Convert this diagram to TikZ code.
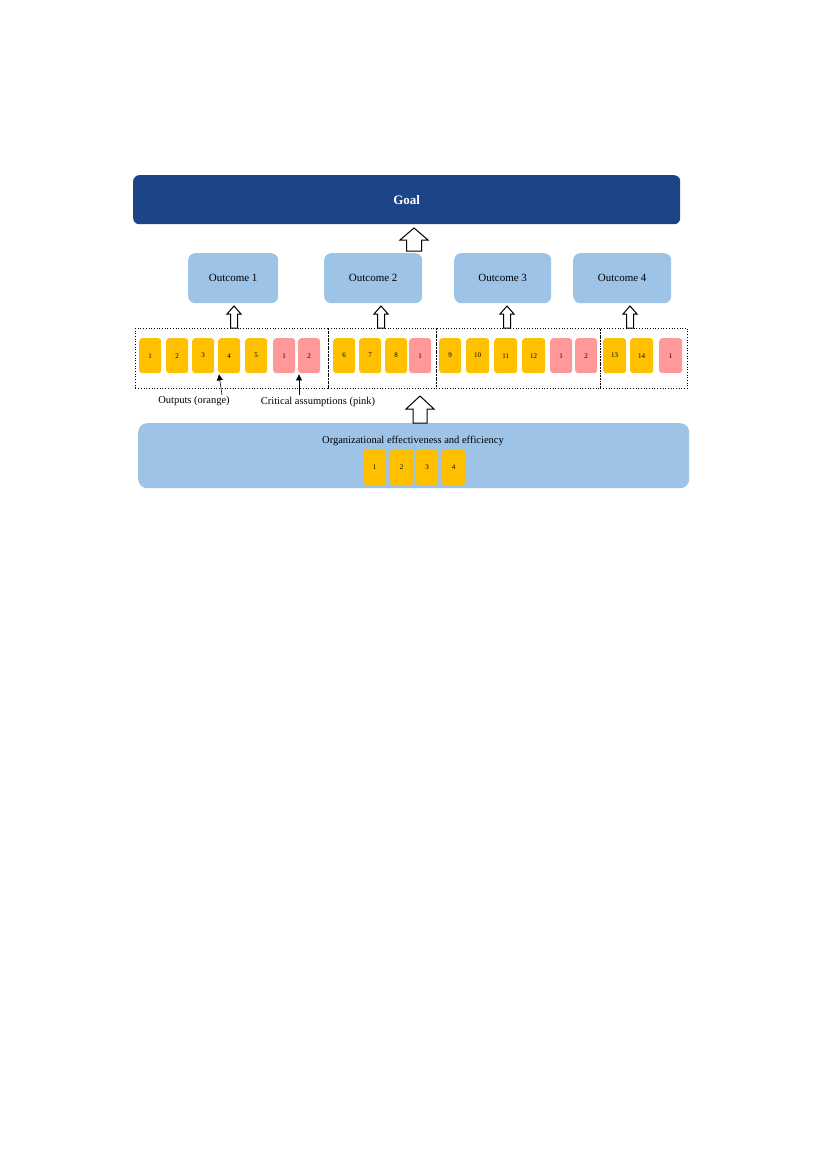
\documentclass[tikz,border=0pt]{standalone}
\usepackage{fontspec}
\setmainfont{Liberation Serif}
\usetikzlibrary{calc,arrows.meta}
\definecolor{goalblue}{RGB}{28,69,135}
\definecolor{outblue}{RGB}{157,195,230}
\definecolor{orangeb}{RGB}{255,192,0}
\definecolor{pinkb}{RGB}{255,153,153}
% #1 bottom point, #2 tip point, #3 half shaft, #4 half head, #5 head length
\newcommand{\harrow}[5]{%
  \draw[harr] ($(#2 |- #1)+(-#3,0)$) -- ($(#2)+(-#3,#5)$) -- ($(#2)+(-#4,#5)$) -- (#2)
    -- ($(#2)+(#4,#5)$) -- ($(#2)+(#3,#5)$) -- ($(#2 |- #1)+(#3,0)$) -- cycle;}
\begin{document}
\begin{tikzpicture}[x=1pt,y=-1pt,
  goalbox/.style={fill=goalblue, rounded corners=6pt, anchor=north west, inner sep=0pt,
    text=white, font=\fontsize{13}{15}\selectfont\bfseries},
  outbox/.style={fill=outblue, rounded corners=7pt, anchor=north west, inner sep=0pt,
    minimum height=50pt, font=\fontsize{11}{13}\selectfont},
  orgbox/.style={fill=outblue, rounded corners=9pt, anchor=north west, inner sep=0pt},
  obox/.style={fill=orangeb, rounded corners=3pt, anchor=north west, inner sep=0pt,
    minimum width=22pt, minimum height=35pt, font=\fontsize{7}{8}\selectfont},
  pbox/.style={obox, fill=pinkb},
  sect/.style={draw, dash pattern=on 0.9pt off 1.8pt, line width=0.8pt, anchor=north west,
    minimum height=60pt, inner sep=0pt},
  harr/.style={draw, fill=white, line width=1pt, line join=miter},
  lab/.style={font=\fontsize{10.5}{12}\selectfont, inner sep=0pt},
  callout/.style={-{Triangle[length=6pt,width=6pt]}, line width=0.6pt}
]
\useasboundingbox (0,0) rectangle (827,1169);

% goal and outcomes
\node[goalbox, minimum width=547pt, minimum height=49pt] (goal) at (133,175) {Goal};
\node[outbox, minimum width=90pt] (out1) at (188,253) {Outcome 1};
\node[outbox, minimum width=98pt] (out2) at (324,253) {Outcome 2};
\node[outbox, minimum width=97pt] (out3) at (454,253) {Outcome 3};
\node[outbox, minimum width=98pt] (out4) at (573,253) {Outcome 4};

% dotted sections
\node[sect, minimum width=193pt] (sec1) at (135,328) {};
\node[sect, minimum width=108pt] (sec2) at (328,328) {};
\node[sect, minimum width=164pt] (sec3) at (436,328) {};
\node[sect, minimum width=87pt] (sec4) at (600,328) {};

% outputs and assumptions
\node[obox] (o1) at (139,338) {1};
\node[obox] (o2) at (166,338) {2};
\node[obox] (o3) at (192,338) {3};
\node[obox] (o4) at (218,338) {4};
\node[obox] (o5) at (245,338) {5};
\node[pbox] (p1) at (273,338) {1};
\node[pbox] (p2) at (298,338) {2};
\node[obox] (o6) at (333,338) {6};
\node[obox] (o7) at (359,338) {7};
\node[obox] (o8) at (385,338) {8};
\node[pbox] (p3) at (409,338) {1};
\node[obox] (o9) at (439,338) {9};
\node[obox, minimum width=23pt] (o10) at (466,338) {10};
\node[obox, minimum width=23pt] (o11) at (494,338) {11};
\node[obox, minimum width=23pt] (o12) at (522,338) {12};
\node[pbox] (p4) at (550,338) {1};
\node[pbox] (p5) at (575,338) {2};
\node[obox, minimum width=23pt] (o13) at (603,338) {13};
\node[obox, minimum width=23pt] (o14) at (630,338) {14};
\node[pbox, minimum width=23pt] (p6) at (659,338) {1};

% labels
\node[lab] (lout) at (194,401) {Outputs (orange)};
\node[lab] (lcrit) at (318,402) {Critical assumptions (pink)};
\coordinate (c1) at (222,395);
\coordinate (c2) at (299,395);
\draw[callout] (c1) -- ($(o4.south west)+(1,1)$);
\draw[callout] (c2) -- ($(p2.south west)+(1,1)$);

% organizational box
\node[orgbox, minimum width=551pt, minimum height=65pt] (org) at (138,423) {};
\node[lab] (orgtext) at (413,441) {Organizational effectiveness and efficiency};
\node[obox, minimum width=23pt, minimum height=36pt] (e1) at (363,449) {1};
\node[obox, minimum width=23pt, minimum height=36pt] (e2) at (390,449) {2};
\node[obox, minimum width=22pt, minimum height=36pt] (e3) at (416,449) {3};
\node[obox, minimum width=23pt, minimum height=36pt] (e4) at (442,449) {4};

% hollow arrows
\coordinate (t1) at (234,306);
\coordinate (t2) at (381,306);
\coordinate (t3) at (507,306);
\coordinate (t4) at (630,306);
\harrow{sec1.north}{t1}{3.5}{7}{8}
\harrow{sec2.north}{t2}{3.5}{7}{8}
\harrow{sec3.north}{t3}{3.5}{7}{8}
\harrow{sec4.north}{t4}{3.5}{7}{8}
\coordinate (tg) at (414,228);
\coordinate (bg) at (414,251);
\harrow{bg}{tg}{7.5}{14}{12}
\coordinate (tb) at (420,396);
\harrow{org.north}{tb}{7}{14}{13}
\end{tikzpicture}
\end{document}
